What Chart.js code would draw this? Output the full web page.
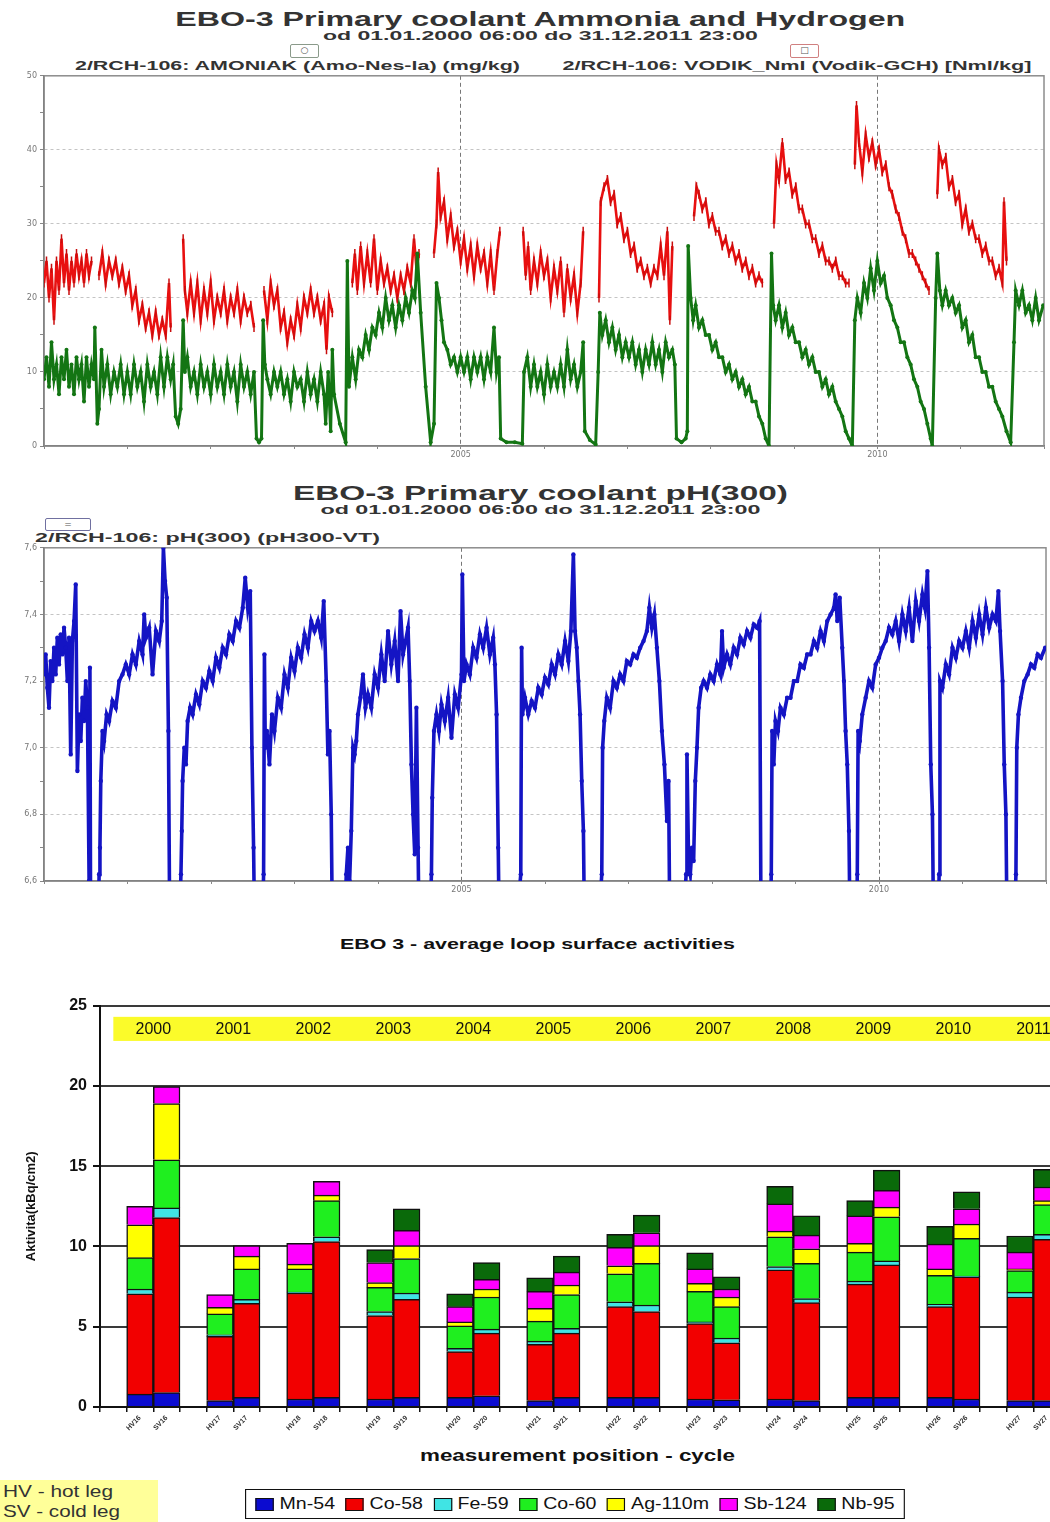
<!DOCTYPE html>
<html>
<head>
<meta charset="utf-8">
<script src="https://cdn.jsdelivr.net/npm/chart.js@4.4.1/dist/chart.umd.min.js"></script>
<style>
html,body{margin:0;padding:0;overflow:hidden}
body{width:1050px;height:1522px;position:relative;background:#fff;font-family:"Liberation Sans",Arial,sans-serif}
.txt{position:absolute;white-space:nowrap;color:#333;line-height:1}
canvas{position:absolute;left:0}
.mark{position:absolute;border:1.5px solid #999;border-radius:2px;background:#fff;font:9px "DejaVu Sans";text-align:center;line-height:11px;color:#555}
#isoLegend{position:absolute;border:1.5px solid #111;padding:4px 8px;display:flex;align-items:center;font:17px "Liberation Sans",Arial;color:#111;background:#fff}
#isoLegend span.sw{display:inline-block;width:14px;height:11px;border:1px solid #111;margin:0 5px 0 9px}
#isoLegend span.sw:first-child{margin-left:0}
#legBox{position:absolute;left:0;top:1480px;width:158px;height:42px;background:#ffff99}
</style>
</head>
<body>

<div class="txt" data-cx="540" data-w="730" style="top:7px;font:bold 21px 'Liberation Sans'">EBO-3 Primary coolant Ammonia and Hydrogen</div>
<div class="txt" data-cx="540" data-w="435" style="top:29px;font:bold 12px 'Liberation Sans'">od 01.01.2000 06:00 do 31.12.2011 23:00</div>
<div class="mark" style="left:290px;top:44px;width:27px;height:12px;border-color:#8a9a8a">&#9675;</div>
<div class="mark" style="left:790px;top:44px;width:27px;height:12px;border-color:#d08080">&#9633;</div>
<div class="txt" data-cx="297" data-w="445" style="top:59px;font:bold 12px 'Liberation Sans'">2/RCH-106: AMONIAK (Amo-Nes-la) (mg/kg)</div>
<div class="txt" data-cx="797" data-w="469" style="top:59px;font:bold 12px 'Liberation Sans'">2/RCH-106: VODIK_Nml (Vodik-GCH) [Nml/kg]</div>

<div class="txt" data-cx="540" data-w="495" style="top:482px;font:bold 20px 'Liberation Sans'">EBO-3 Primary coolant pH(300)</div>
<div class="txt" data-cx="540" data-w="440" style="top:503px;font:bold 12px 'Liberation Sans'">od 01.01.2000 06:00 do 31.12.2011 23:00</div>
<div class="mark" style="left:45px;top:518px;width:44px;height:11px;border-color:#7070a0">=</div>
<div class="txt" data-x="35" data-w="345" style="top:531px;font:bold 12px 'Liberation Sans'">2/RCH-106: pH(300) (pH300-VT)</div>

<div class="txt" data-cx="537" data-w="395" style="top:935px;font:bold 15px 'Liberation Sans';color:#111">EBO 3 - average loop surface activities</div>
<div class="txt" data-cx="577" data-w="315" style="top:1447px;font:bold 16px 'Liberation Sans';color:#111">measurement position - cycle</div>

<canvas id="amoChart" width="1050" height="400" style="top:68px"></canvas>
<canvas id="phChart" width="1050" height="355" style="top:540px"></canvas>
<canvas id="actChart" width="1060" height="476" style="top:990px"></canvas>

<div id="legBox"></div>
<div class="txt" data-x="3" data-w="110" style="top:1482px;font:17px 'Liberation Sans'">HV - hot leg</div>
<div class="txt" data-x="3" data-w="117" style="top:1502px;font:17px 'Liberation Sans'">SV - cold leg</div>
<div id="isoLegend" data-x="245" data-w="660" style="top:1489px"></div>

<script>
// ---- primary coolant: ammonia (mg/kg) and hydrogen (Nml/kg), [year, value]
const amoniak = [
  [2000.00,9],[2000.03,12],[2000.06,8],[2000.09,14],[2000.12,9],[2000.15,11],[2000.18,7],[2000.21,12],[2000.24,9],[2000.27,13],
  [2000.30,8],[2000.33,11],[2000.36,7],[2000.39,12],[2000.42,9],[2000.45,11],[2000.48,6],[2000.51,12],[2000.54,8],[2000.57,11],
  [2000.60,9],[2000.61,16],[2000.64,3],[2000.66,5],[2000.69,13],[2000.72,8],[2000.76,11],[2000.80,7],[2000.84,10],[2000.88,8],
  [2000.92,11],[2000.96,7],[2001.00,10],[2001.04,7],[2001.08,11],[2001.12,8],[2001.16,10],[2001.20,6],[2001.24,11],[2001.28,8],
  [2001.32,10],[2001.36,7],[2001.40,12],[2001.44,8],[2001.48,12],[2001.52,9],[2001.55,11],[2001.58,4],[2001.61,3],[2001.64,5],
  [2001.67,17],[2001.69,10],[2001.72,12],[2001.76,8],[2001.80,10],[2001.84,7],[2001.88,11],[2001.92,8],[2001.96,10],[2002.00,7],
  [2002.04,11],[2002.08,8],[2002.12,10],[2002.16,7],[2002.20,11],[2002.24,8],[2002.28,10],[2002.32,6],[2002.36,11],[2002.40,8],
  [2002.44,10],[2002.48,7],[2002.52,10],[2002.55,1],[2002.58,0.5],[2002.61,1],[2002.63,17],[2002.65,11],[2002.68,9],[2002.72,7],
  [2002.76,10],[2002.80,8],[2002.84,10],[2002.88,7],[2002.92,9],[2002.96,6],[2003.00,10],[2003.04,8],[2003.08,9],[2003.12,6],
  [2003.16,10],[2003.20,7],[2003.24,9],[2003.28,6],[2003.32,10],[2003.36,7],[2003.38,3],[2003.41,10],[2003.44,2],[2003.46,13],
  [2003.48,7],[2003.55,3],[2003.62,0.5],[2003.64,25],[2003.66,8],[2003.70,12],[2003.74,9],[2003.78,13],[2003.82,12],[2003.86,15],
  [2003.90,13],[2003.94,16],[2003.98,15],[2004.02,18],[2004.06,16],[2004.10,20],[2004.14,17],[2004.18,19],[2004.22,16],[2004.26,19],
  [2004.30,17],[2004.34,20],[2004.38,18],[2004.42,21],[2004.45,20],[2004.48,26],[2004.52,18],[2004.58,8],[2004.64,0.5],[2004.68,3],
  [2004.71,22],[2004.74,20],[2004.77,17],[2004.80,14],[2004.84,13],[2004.88,11],[2004.92,12],[2004.96,10],[2005.00,12],[2005.04,10],
  [2005.08,12],[2005.12,9],[2005.16,12],[2005.20,10],[2005.24,12],[2005.28,9],[2005.32,12],[2005.36,10],[2005.40,16],[2005.43,10],
  [2005.46,12],[2005.48,1],[2005.55,0.5],[2005.65,0.5],[2005.74,0.3],[2005.76,10],[2005.80,12],[2005.84,8],[2005.88,11],[2005.92,8],
  [2005.96,10],[2006.00,7],[2006.04,11],[2006.08,8],[2006.12,10],[2006.16,8],[2006.20,11],[2006.24,8],[2006.28,13],[2006.32,9],
  [2006.36,11],[2006.40,8],[2006.44,10],[2006.47,14],[2006.49,2],[2006.55,0.8],[2006.62,0.2],[2006.65,10],[2006.67,18],[2006.70,15],
  [2006.74,17],[2006.78,14],[2006.82,16],[2006.86,13],[2006.90,15],[2006.94,12],[2006.98,14],[2007.02,12],[2007.06,14],[2007.10,11],
  [2007.14,13],[2007.18,10],[2007.22,13],[2007.26,11],[2007.30,14],[2007.34,11],[2007.38,13],[2007.42,10],[2007.46,14],[2007.50,12],
  [2007.54,13],[2007.57,11],[2007.59,1],[2007.65,0.5],[2007.70,1],[2007.72,2],[2007.73,27],[2007.76,20],[2007.79,17],[2007.82,19],
  [2007.86,16],[2007.90,17],[2007.94,15],[2007.98,15],[2008.02,13],[2008.06,14],[2008.10,12],[2008.14,12],[2008.18,10],[2008.22,11],
  [2008.26,9],[2008.30,10],[2008.34,8],[2008.38,9],[2008.42,7],[2008.46,8],[2008.50,6],[2008.54,6],[2008.58,4],[2008.62,3],
  [2008.66,1],[2008.70,0],[2008.73,26],[2008.75,19],[2008.78,17],[2008.82,19],[2008.86,16],[2008.90,18],[2008.94,15],[2008.98,16],
  [2009.02,14],[2009.06,14],[2009.10,12],[2009.14,13],[2009.18,11],[2009.22,12],[2009.26,10],[2009.30,10],[2009.34,8],[2009.38,9],
  [2009.42,7],[2009.46,8],[2009.50,6],[2009.54,5],[2009.58,4],[2009.62,2],[2009.66,1],[2009.70,0],[2009.73,17],[2009.76,20],
  [2009.80,18],[2009.84,22],[2009.88,20],[2009.92,24],[2009.96,21],[2010.00,25],[2010.04,22],[2010.08,23],[2010.12,20],[2010.16,19],
  [2010.20,17],[2010.24,16],[2010.28,14],[2010.32,14],[2010.36,12],[2010.40,11],[2010.44,9],[2010.48,8],[2010.52,6],[2010.56,5],
  [2010.60,3],[2010.64,1],[2010.66,0],[2010.70,20],[2010.72,26],[2010.75,21],[2010.78,19],[2010.82,21],[2010.86,19],[2010.90,20],
  [2010.94,18],[2010.98,19],[2011.02,16],[2011.06,17],[2011.10,14],[2011.14,15],[2011.18,12],[2011.22,12],[2011.26,10],[2011.30,10],
  [2011.34,8],[2011.38,8],[2011.42,6],[2011.46,5],[2011.50,4],[2011.55,2],[2011.60,0.5],[2011.64,14],[2011.66,21],[2011.70,19],
  [2011.74,21],[2011.78,18],[2011.82,19],[2011.86,17],[2011.90,20],[2011.94,17],[2011.99,19]
];

const vodik = [
  [2000.00,22],[2000.03,25],[2000.06,20],[2000.09,24],[2000.12,17],[2000.15,25],[2000.18,21],[2000.21,28],[2000.24,22],[2000.27,26],
  [2000.30,21],[2000.33,25],[2000.36,22],[2000.39,26],[2000.42,23],[2000.45,25],[2000.48,22],[2000.51,26],[2000.54,23],[2000.57,25],
  [2000.61,null],
  [2000.66,23],[2000.70,26],[2000.74,22],[2000.78,25],[2000.82,23],[2000.86,25],[2000.90,22],[2000.94,24],[2000.98,21],[2001.02,23],
  [2001.06,19],[2001.10,21],[2001.14,17],[2001.18,19],[2001.22,16],[2001.26,18],[2001.30,15],[2001.34,18],[2001.38,15],[2001.42,17],
  [2001.46,15],[2001.50,22],[2001.52,16],
  [2001.58,null],
  [2001.67,28],[2001.69,21],[2001.72,18],[2001.76,22],[2001.80,18],[2001.84,22],[2001.88,17],[2001.92,21],[2001.96,18],[2002.00,22],
  [2002.04,17],[2002.08,20],[2002.12,18],[2002.16,21],[2002.20,17],[2002.24,20],[2002.28,18],[2002.32,21],[2002.36,17],[2002.40,20],
  [2002.44,18],[2002.48,19],[2002.52,16],
  [2002.58,null],
  [2002.64,21],[2002.68,17],[2002.72,22],[2002.76,19],[2002.80,21],[2002.84,16],[2002.88,18],[2002.92,14],[2002.96,17],[2003.00,15],
  [2003.04,19],[2003.08,16],[2003.12,20],[2003.16,18],[2003.20,21],[2003.24,18],[2003.28,20],[2003.32,17],[2003.36,19],[2003.39,13],
  [2003.42,20],[2003.46,18],
  [2003.55,null],
  [2003.70,22],[2003.73,26],[2003.76,21],[2003.80,27],[2003.84,22],[2003.88,26],[2003.92,22],[2003.96,28],[2004.00,21],[2004.04,25],
  [2004.08,22],[2004.12,24],[2004.16,21],[2004.20,23],[2004.24,20],[2004.28,23],[2004.32,21],[2004.36,24],[2004.40,22],[2004.44,28],
  [2004.47,24],[2004.50,26],
  [2004.60,null],
  [2004.68,26],[2004.71,30],[2004.73,37],[2004.76,31],[2004.80,33],[2004.84,28],[2004.88,31],[2004.92,27],[2004.96,29],[2005.00,25],
  [2005.04,28],[2005.08,24],[2005.12,27],[2005.16,23],[2005.20,27],[2005.24,24],[2005.28,26],[2005.32,22],[2005.36,26],[2005.40,21],
  [2005.44,26],[2005.47,29],
  [2005.55,null],
  [2005.75,29],[2005.78,23],[2005.81,27],[2005.84,21],[2005.88,25],[2005.92,22],[2005.96,26],[2006.00,23],[2006.04,25],[2006.08,20],
  [2006.12,24],[2006.16,21],[2006.20,25],[2006.24,18],[2006.28,24],[2006.32,20],[2006.36,23],[2006.40,18],[2006.44,22],[2006.47,29],
  [2006.55,null],
  [2006.66,20],[2006.68,33],[2006.72,35],[2006.76,36],[2006.80,33],[2006.84,34],[2006.88,30],[2006.92,31],[2006.96,28],[2007.00,29],
  [2007.04,26],[2007.08,27],[2007.12,24],[2007.16,25],[2007.20,23],[2007.24,24],[2007.28,22],[2007.32,24],[2007.36,23],[2007.40,27],
  [2007.44,23],[2007.48,29],[2007.51,17],[2007.54,27],
  [2007.60,null],
  [2007.80,31],[2007.83,35],[2007.86,34],[2007.90,32],[2007.94,33],[2007.98,30],[2008.02,31],[2008.06,29],[2008.10,29],[2008.14,27],
  [2008.18,28],[2008.22,26],[2008.26,27],[2008.30,25],[2008.34,26],[2008.38,24],[2008.42,25],[2008.46,23],[2008.50,24],[2008.54,22],
  [2008.58,23],[2008.62,22],
  [2008.68,null],
  [2008.76,30],[2008.79,38],[2008.82,36],[2008.86,41],[2008.90,36],[2008.94,37],[2008.98,34],[2009.02,35],[2009.06,32],[2009.10,32],
  [2009.14,30],[2009.18,30],[2009.22,28],[2009.26,28],[2009.30,26],[2009.34,27],[2009.38,25],[2009.42,25],[2009.46,24],[2009.50,25],
  [2009.54,23],[2009.58,23],[2009.62,22],[2009.66,22],
  [2009.70,null],
  [2009.73,38],[2009.75,46],[2009.78,41],[2009.82,37],[2009.86,42],[2009.90,39],[2009.94,41],[2009.98,38],[2010.02,40],[2010.06,37],
  [2010.10,38],[2010.14,35],[2010.18,34],[2010.22,32],[2010.26,31],[2010.30,29],[2010.34,28],[2010.38,26],[2010.42,26],[2010.46,25],
  [2010.50,24],[2010.54,23],[2010.58,22],[2010.62,21],
  [2010.66,null],
  [2010.72,34],[2010.74,40],[2010.78,38],[2010.82,39],[2010.86,35],[2010.90,36],[2010.94,33],[2010.98,34],[2011.02,30],[2011.06,32],
  [2011.10,29],[2011.14,30],[2011.18,28],[2011.22,28],[2011.26,26],[2011.30,27],[2011.34,25],[2011.38,25],[2011.42,23],[2011.46,24],
  [2011.50,22],[2011.52,33],[2011.55,25]
];

// ---- pH(300), [year, pH]; values below 6.6 are off the axis
const ph300 = [
  [2000.00,7.22],[2000.02,7.28],[2000.04,7.18],[2000.06,7.12],[2000.08,7.26],[2000.10,7.20],[2000.12,7.30],[2000.14,7.22],[2000.16,7.33],[2000.18,7.25],
  [2000.20,7.34],[2000.22,7.28],[2000.24,7.36],[2000.26,7.30],[2000.28,7.20],[2000.30,7.33],[2000.32,6.98],[2000.34,7.32],[2000.36,7.38],[2000.38,7.49],
  [2000.40,6.93],[2000.42,7.10],[2000.44,7.02],[2000.46,7.15],[2000.48,7.08],[2000.50,7.20],[2000.52,7.12],[2000.54,6.60],[2000.55,7.24],[2000.56,6.30],
  [2000.64,6.30],[2000.66,6.62],[2000.67,6.70],[2000.68,6.90],[2000.70,7.05],[2000.72,7.02],[2000.75,7.10],[2000.78,7.08],[2000.82,7.14],[2000.86,7.12],
  [2000.90,7.20],[2000.94,7.22],[2000.98,7.25],[2001.02,7.22],[2001.06,7.28],[2001.10,7.25],[2001.14,7.32],[2001.18,7.28],[2001.20,7.40],[2001.22,7.33],
  [2001.26,7.36],[2001.30,7.22],[2001.34,7.35],[2001.38,7.32],[2001.41,7.38],[2001.43,7.60],[2001.45,7.50],[2001.47,7.45],[2001.49,7.05],[2001.51,6.30],
  [2001.60,6.30],[2001.64,6.62],[2001.65,6.75],[2001.66,6.90],[2001.68,7.00],[2001.70,6.95],[2001.72,7.08],[2001.75,7.12],[2001.78,7.10],[2001.82,7.16],
  [2001.86,7.13],[2001.90,7.20],[2001.94,7.18],[2001.98,7.23],[2002.02,7.20],[2002.06,7.27],[2002.10,7.24],[2002.14,7.30],[2002.18,7.28],[2002.22,7.34],
  [2002.26,7.32],[2002.30,7.38],[2002.34,7.36],[2002.38,7.42],[2002.41,7.51],[2002.44,7.42],[2002.47,7.47],[2002.49,7.00],[2002.51,6.70],[2002.53,6.30],
  [2002.60,6.30],[2002.63,6.62],[2002.64,7.28],[2002.65,7.00],[2002.67,7.05],[2002.70,6.95],[2002.73,7.10],[2002.76,7.05],[2002.80,7.15],[2002.84,7.12],
  [2002.88,7.22],[2002.92,7.18],[2002.96,7.27],[2003.00,7.23],[2003.04,7.30],[2003.08,7.27],[2003.12,7.34],[2003.16,7.30],[2003.20,7.38],[2003.24,7.35],
  [2003.28,7.38],[2003.32,7.33],[2003.35,7.44],[2003.38,7.20],[2003.40,6.98],[2003.42,7.05],[2003.44,6.80],[2003.46,6.30],[2003.58,6.30],[2003.62,6.62],
  [2003.64,6.70],[2003.66,6.60],[2003.68,6.75],[2003.70,7.00],[2003.72,6.98],[2003.74,7.02],[2003.76,7.10],[2003.79,7.15],[2003.82,7.22],[2003.85,7.12],
  [2003.88,7.16],[2003.92,7.12],[2003.96,7.22],[2004.00,7.18],[2004.04,7.28],[2004.08,7.20],[2004.12,7.35],[2004.16,7.25],[2004.20,7.32],[2004.24,7.20],
  [2004.27,7.41],[2004.30,7.28],[2004.33,7.32],[2004.36,7.36],[2004.38,7.20],[2004.40,6.95],[2004.42,6.80],[2004.44,6.68],[2004.46,7.12],[2004.48,6.70],
  [2004.50,6.30],[2004.60,6.30],[2004.64,6.62],[2004.65,6.85],[2004.67,7.05],[2004.70,7.10],[2004.73,7.05],[2004.76,7.13],[2004.80,7.08],[2004.84,7.15],
  [2004.88,7.03],[2004.92,7.16],[2004.96,7.12],[2005.00,7.22],[2005.01,7.52],[2005.03,7.20],[2005.06,7.25],[2005.10,7.22],[2005.14,7.30],[2005.18,7.27],
  [2005.22,7.34],[2005.26,7.30],[2005.30,7.36],[2005.34,7.28],[2005.38,7.33],[2005.40,7.25],[2005.42,7.10],[2005.44,6.70],[2005.46,6.30],[2005.60,6.30],
  [2005.71,6.62],[2005.72,7.30],[2005.73,7.10],[2005.76,7.15],[2005.80,7.10],[2005.84,7.14],[2005.88,7.12],[2005.92,7.18],[2005.96,7.16],[2006.00,7.21],
  [2006.04,7.19],[2006.08,7.25],[2006.12,7.22],[2006.16,7.28],[2006.20,7.25],[2006.24,7.32],[2006.28,7.26],[2006.31,7.35],[2006.34,7.58],[2006.36,7.35],
  [2006.38,7.30],[2006.40,7.20],[2006.42,7.10],[2006.44,6.90],[2006.46,6.75],[2006.48,6.30],[2006.60,6.30],[2006.68,6.62],[2006.69,7.00],[2006.71,7.08],
  [2006.74,7.15],[2006.78,7.12],[2006.82,7.20],[2006.86,7.18],[2006.90,7.22],[2006.94,7.20],[2006.98,7.26],[2007.02,7.25],[2007.06,7.28],[2007.10,7.27],
  [2007.14,7.30],[2007.18,7.32],[2007.22,7.35],[2007.25,7.42],[2007.28,7.36],[2007.31,7.40],[2007.34,7.30],[2007.37,7.20],[2007.40,7.05],[2007.43,6.95],
  [2007.46,6.78],[2007.48,6.90],[2007.50,6.30],[2007.62,6.30],[2007.69,6.62],[2007.70,6.98],[2007.72,6.65],[2007.74,6.62],[2007.76,6.70],[2007.78,6.66],
  [2007.80,6.90],[2007.82,7.00],[2007.84,7.12],[2007.87,7.18],[2007.90,7.20],[2007.94,7.18],[2007.98,7.22],[2008.02,7.20],[2008.06,7.25],[2008.10,7.22],
  [2008.12,7.35],[2008.14,7.24],[2008.18,7.28],[2008.22,7.25],[2008.26,7.30],[2008.30,7.28],[2008.34,7.33],[2008.38,7.31],[2008.42,7.35],[2008.46,7.33],
  [2008.50,7.37],[2008.54,7.36],[2008.57,7.38],[2008.59,6.30],[2008.68,6.30],[2008.71,6.62],[2008.72,7.05],[2008.74,6.95],[2008.76,7.08],[2008.79,7.05],
  [2008.82,7.12],[2008.86,7.10],[2008.90,7.15],[2008.94,7.15],[2008.98,7.20],[2009.02,7.20],[2009.06,7.25],[2009.10,7.24],[2009.14,7.28],[2009.18,7.28],
  [2009.22,7.32],[2009.26,7.30],[2009.30,7.35],[2009.34,7.32],[2009.38,7.38],[2009.42,7.40],[2009.46,7.42],[2009.48,7.46],[2009.50,7.38],[2009.53,7.45],
  [2009.56,7.30],[2009.58,7.20],[2009.60,7.05],[2009.62,6.95],[2009.64,6.75],[2009.66,6.30],[2009.72,6.30],[2009.74,6.62],[2009.75,7.05],[2009.77,7.02],
  [2009.80,7.10],[2009.84,7.15],[2009.88,7.20],[2009.92,7.18],[2009.96,7.25],[2010.00,7.27],[2010.04,7.30],[2010.08,7.32],[2010.12,7.36],[2010.16,7.34],
  [2010.20,7.38],[2010.24,7.32],[2010.28,7.40],[2010.32,7.35],[2010.36,7.42],[2010.40,7.32],[2010.44,7.44],[2010.48,7.38],[2010.52,7.46],[2010.55,7.42],
  [2010.58,7.53],[2010.60,7.30],[2010.62,6.95],[2010.64,6.80],[2010.66,6.30],[2010.70,6.30],[2010.72,6.62],[2010.73,7.20],[2010.76,7.18],[2010.80,7.25],
  [2010.84,7.22],[2010.88,7.30],[2010.92,7.27],[2010.96,7.32],[2011.00,7.30],[2011.04,7.35],[2011.08,7.30],[2011.12,7.38],[2011.16,7.33],[2011.20,7.40],
  [2011.24,7.34],[2011.28,7.42],[2011.32,7.36],[2011.36,7.40],[2011.40,7.38],[2011.43,7.47],[2011.45,7.35],[2011.48,7.20],[2011.50,6.95],[2011.52,6.80],
  [2011.54,6.30],[2011.60,6.30],[2011.64,6.62],[2011.65,7.00],[2011.67,7.10],[2011.70,7.15],[2011.74,7.20],[2011.78,7.22],[2011.82,7.25],[2011.86,7.24],
  [2011.90,7.28],[2011.94,7.27],[2011.99,7.30]
];

// ---- average loop surface activities (kBq/cm2)
const years = ['2000','2001','2002','2003','2004','2005','2006','2007','2008','2009','2010','2011'];
const positions = ['HV16','SV16','HV17','SV17','HV18','SV18','HV19','SV19','HV20','SV20','HV21','SV21',
                   'HV22','SV22','HV23','SV23','HV24','SV24','HV25','SV25','HV26','SV26','HV27','SV27'];
const isotopes = ['Mn-54','Co-58','Fe-59','Co-60','Ag-110m','Sb-124','Nb-95'];
const isoColors = ['#0b0bd0','#f20000','#40e4e4','#1fef1f','#ffff00','#ff00ff','#0a6a0a'];
const mn54  = [0.8,0.9, 0.4,0.6, 0.5,0.6, 0.5,0.6, 0.6,0.7, 0.4,0.6, 0.6,0.6, 0.5,0.45, 0.5,0.4, 0.6,0.6, 0.6,0.5, 0.4,0.4];
const co58  = [6.25,10.9, 4.0,5.85, 6.6,9.7, 5.2,6.1, 2.85,3.9, 3.5,4.0, 5.65,5.35, 4.7,3.55, 8.05,6.1, 7.05,8.25, 5.65,7.6, 6.45,10.05];
const fe59  = [0.3,0.6, 0.1,0.25, 0.05,0.3, 0.25,0.4, 0.2,0.25, 0.2,0.3, 0.3,0.4, 0.1,0.3, 0.2,0.25, 0.2,0.25, 0.15,0.05, 0.3,0.3];
const co60  = [1.95,3.0, 1.3,1.9, 1.45,2.25, 1.5,2.15, 1.4,2.0, 1.25,2.1, 1.75,2.6, 1.9,1.95, 1.85,2.2, 1.8,2.75, 1.8,2.35, 1.35,1.85];
const ag110 = [2.05,3.5, 0.4,0.8, 0.3,0.35, 0.3,0.8, 0.25,0.5, 0.8,0.6, 0.5,1.1, 0.5,0.6, 0.35,0.9, 0.55,0.6, 0.4,0.9, 0.1,0.25];
const sb124 = [1.15,1.05, 0.8,0.65, 1.3,0.85, 1.25,0.95, 0.95,0.6, 1.05,0.8, 1.15,0.8, 0.9,0.5, 1.7,0.85, 1.7,1.05, 1.55,0.95, 1.05,0.85];
const nb95  = [0,0, 0,0, 0,0, 0.8,1.35, 0.8,1.05, 0.85,1.0, 0.8,1.1, 1.0,0.75, 1.1,1.2, 0.95,1.25, 1.1,1.05, 1.0,1.1];
const isoValues = [mn54, co58, fe59, co60, ag110, sb124, nb95];

const toXY = arr => arr.map(p => ({x: p[0], y: p[1]}));

// chart area outline (top/right edges of the trend plots)
const framePlugin = {
  id: 'frame',
  beforeDatasetsDraw(chart, args, opts) {
    const a = chart.chartArea, c = chart.ctx;
    c.save();
    c.strokeStyle = opts.color || '#999';
    c.lineWidth = opts.width || 1;
    c.strokeRect(a.left, a.top, a.right - a.left, a.bottom - a.top);
    c.restore();
  }
};

function trendScales(yMin, yMax, yStep, isMajor, fmt, xAxisH, gridTest) {
  return {
    x: {
      type: 'linear', min: 2000, max: 2012,
      afterFit: s => { s.height = xAxisH; },
      ticks: {
        stepSize: 1, autoSkip: false, maxRotation: 0, padding: 1,
        color: '#777', font: {family: 'DejaVu Sans', size: 8},
        callback: v => (v === 2005 || v === 2010) ? String(v) : ''
      },
      grid: {
        color: c => (c.tick && (c.tick.value === 2005 || c.tick.value === 2010)) ? '#777' : 'rgba(0,0,0,0)',
        tickColor: '#888', tickLength: 3, lineWidth: 1
      },
      border: {color: '#666', width: 1.5, dash: [4, 3]}
    },
    y: {
      min: yMin, max: yMax,
      afterFit: s => { s.width = 44; },
      ticks: {
        stepSize: yStep, autoSkip: false, padding: 3,
        color: '#777', font: {family: 'DejaVu Sans', size: 8},
        callback: v => isMajor(v) ? fmt(v) : ''
      },
      grid: {
        color: c => (c.tick && gridTest(c.tick.value)) ? '#c4c4c4' : 'rgba(0,0,0,0)',
        tickColor: '#888', tickLength: 4, lineWidth: 1
      },
      border: {color: '#666', width: 1.5, dash: [3, 3]}
    }
  };
}

new Chart(document.getElementById('amoChart'), {
  type: 'line',
  data: {
    datasets: [
      {
        label: '2/RCH-106: AMONIAK (Amo-Nes-la) (mg/kg)',
        data: toXY(amoniak),
        borderColor: '#137513', backgroundColor: '#137513',
        borderWidth: 3, pointRadius: 2, pointBorderWidth: 0, tension: 0
      },
      {
        label: '2/RCH-106: VODIK_Nml (Vodik-GCH) [Nml/kg]',
        data: toXY(vodik),
        borderColor: '#e81010', backgroundColor: '#e81010',
        borderWidth: 2.6, pointStyle: 'line', pointRotation: 90, pointRadius: 4.5,
        pointBorderWidth: 1.5, pointBorderColor: '#c80c0c', tension: 0, spanGaps: false
      }
    ]
  },
  options: {
    responsive: false, animation: false, events: [],
    layout: {padding: {top: 6, right: 3, left: 0, bottom: 0}},
    plugins: {legend: {display: false}, tooltip: {enabled: false}, frame: {color: '#8c8c8c', width: 1.5}},
    scales: trendScales(0, 50, 5,
      v => v % 10 === 0, v => String(v), 22,
      v => v % 10 === 0 && v > 0 && v < 50)
  },
  plugins: [framePlugin]
});

new Chart(document.getElementById('phChart'), {
  type: 'line',
  data: {
    datasets: [{
      label: '2/RCH-106: pH(300) (pH300-VT)',
      data: toXY(ph300),
      borderColor: '#1414c4', backgroundColor: '#1414c4',
      borderWidth: 3.6, pointRadius: 2.2, pointBorderWidth: 0, tension: 0
    }]
  },
  options: {
    responsive: false, animation: false, events: [],
    layout: {padding: {top: 5, right: 0, left: 0, bottom: 0}},
    plugins: {legend: {display: false}, tooltip: {enabled: false}, frame: {color: '#8c8c8c', width: 1.5}},
    scales: trendScales(6.6, 7.6, 0.1,
      v => Math.round(v * 10) % 2 === 0, v => v.toFixed(1).replace('.', ','), 14,
      v => { const k = Math.round(v * 10); return k % 2 === 0 && k > 66 && k < 76; })
  },
  plugins: [framePlugin]
});

// category slots: gap, HV, SV, gap, HV, SV ...
const slotLabels = [];
const slotIndex = [];
positions.forEach((p, i) => {
  if (i % 2 === 0) { slotLabels.push(''); slotIndex.push(-1); }
  slotLabels.push(p); slotIndex.push(i);
});

// yellow strip with the campaign years
const yearBand = {
  id: 'yearBand',
  beforeDatasetsDraw(chart) {
    const {ctx, chartArea, scales: {x, y}} = chart;
    const top = y.getPixelForValue(24.3), bot = y.getPixelForValue(22.8);
    const left = x.getPixelForValue(0);
    ctx.save();
    ctx.fillStyle = '#fbfb2a';
    ctx.fillRect(left, top, chartArea.right - left, bot - top);
    ctx.fillStyle = '#111';
    ctx.font = '16px "Liberation Sans", Arial';
    ctx.textAlign = 'center';
    ctx.textBaseline = 'middle';
    years.forEach((yr, g) => {
      const cx = (x.getPixelForValue(3 * g + 1) + x.getPixelForValue(3 * g + 2)) / 2;
      ctx.fillText(yr, cx, (top + bot) / 2 + 1);
    });
    ctx.restore();
  }
};

new Chart(document.getElementById('actChart'), {
  type: 'bar',
  data: {
    labels: slotLabels,
    datasets: isotopes.map((name, k) => ({
      label: name,
      data: slotIndex.map(i => (i < 0 || !isoValues[k][i]) ? null : isoValues[k][i]),
      backgroundColor: isoColors[k],
      borderColor: '#111',
      borderWidth: 1.5,
      barPercentage: 1,
      categoryPercentage: 1
    }))
  },
  options: {
    responsive: false, animation: false, events: [],
    layout: {padding: {top: 11, left: 24, right: 0, bottom: 0}},
    plugins: {legend: {display: false}, tooltip: {enabled: false}},
    scales: {
      x: {
        stacked: true,
        afterFit: s => { s.height = 59; },
        ticks: {
          autoSkip: false, minRotation: 45, maxRotation: 45, padding: 2,
          color: '#333', font: {family: 'Liberation Sans', size: 7, weight: 'bold'}
        },
        grid: {offset: true, drawOnChartArea: false, tickLength: 5, tickColor: '#111', lineWidth: 1.5},
        border: {color: '#111', width: 2}
      },
      y: {
        stacked: true, min: 0, max: 25,
        afterFit: s => { s.width = 76; },
        ticks: {stepSize: 5, padding: 6, color: '#111', font: {family: 'Liberation Sans', size: 16, weight: 'bold'}},
        grid: {color: '#3a3a3a', lineWidth: 2, tickLength: 7, tickColor: '#111'},
        border: {color: '#111', width: 2},
        title: {display: true, text: 'Aktivita(kBq/cm2)', color: '#111',
                font: {family: 'Liberation Sans', size: 13, weight: 'bold'}, padding: {top: 0, bottom: 0}}
      }
    }
  },
  plugins: [yearBand]
});

// legend for the isotopes
const leg = document.getElementById('isoLegend');
isotopes.forEach((name, k) => {
  const sw = document.createElement('span');
  sw.className = 'sw';
  sw.style.background = isoColors[k];
  leg.appendChild(sw);
  const t = document.createElement('span');
  t.textContent = name;
  leg.appendChild(t);
});

// stretch the html texts to the widths of the original
document.querySelectorAll('[data-w]').forEach(el => {
  const nw = el.getBoundingClientRect().width;
  const w = +el.dataset.w;
  el.style.transform = 'scaleX(' + (w / nw) + ')';
  if (el.dataset.cx) {
    el.style.left = (+el.dataset.cx - nw / 2) + 'px';
    el.style.transformOrigin = 'center top';
  } else {
    el.style.left = el.dataset.x + 'px';
    el.style.transformOrigin = 'left top';
  }
});
</script>
</body>
</html>
